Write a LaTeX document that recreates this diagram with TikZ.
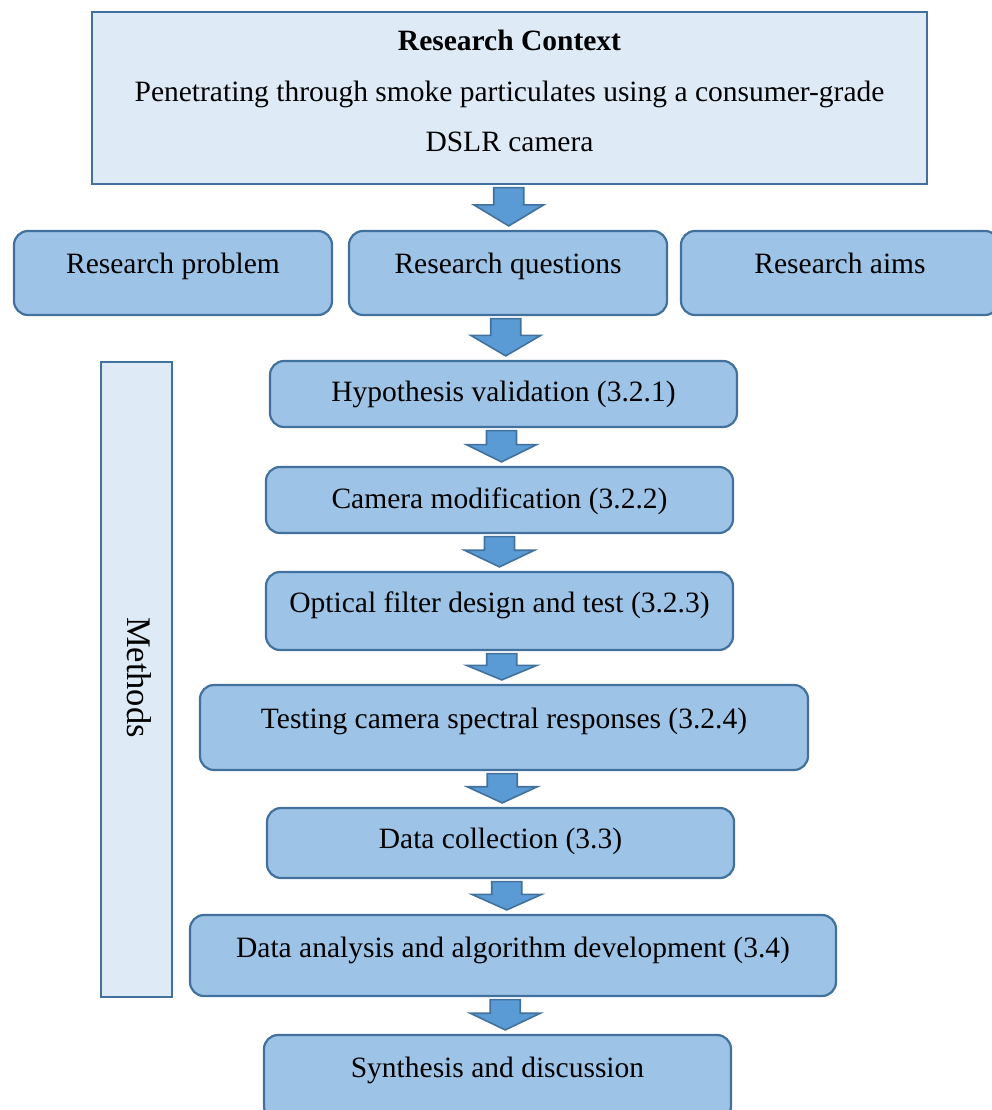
\documentclass[tikz,border=0pt]{standalone}
\usepackage{fontspec}
\setmainfont{Liberation Serif}
\usetikzlibrary{calc}
\definecolor{edge}{HTML}{41719C}
\definecolor{lightfill}{HTML}{DEEBF7}
\definecolor{boxfill}{HTML}{9DC3E6}
\definecolor{arrowfill}{HTML}{5B9BD5}
\tikzset{
  ctxbox/.style={draw=edge, line width=2.2pt, fill=lightfill, rectangle, inner sep=0pt},
  rbox/.style={draw=edge, line width=2.2pt, fill=boxfill, rectangle, rounded corners=14pt, inner sep=0pt},
  txt/.style={font=\fontsize{29.5}{34}\selectfont, inner sep=0pt, anchor=base},
  barrow/.style={draw=edge, line width=1.6pt, fill=arrowfill, line join=miter}
}
\newcommand\flowarrow[2]{%
  \draw[barrow] let \p1=(#1.south), \p2=(#2.north), \n1={(\x1+\x2)/2}, \n2={\y1-2.5}, \n3={\y2+4}, \n4={\n2-0.45*(\n2-\n3)} in
   (\n1*1pt-15pt,\n2*1pt) -- (\n1*1pt+15pt,\n2*1pt) -- (\n1*1pt+15pt,\n4*1pt) -- (\n1*1pt+35pt,\n4*1pt) -- (\n1*1pt,\n3*1pt)
   -- (\n1*1pt-35pt,\n4*1pt) -- (\n1*1pt-15pt,\n4*1pt) -- cycle;}
\begin{document}
\begin{tikzpicture}[x=1pt,y=-1pt]
\useasboundingbox (0,0) rectangle (991,1110);
% context
\node[ctxbox, minimum width=835pt, minimum height=172pt] (ctx) at (509.5,98) {};
\node[txt, font=\fontsize{29.5}{34}\selectfont\bfseries] (ctx1) at (509.5,51) {Research Context};
\node[txt] (ctx2) at (509.5,102) {Penetrating through smoke particulates using a consumer-grade};
\node[txt] (ctx3) at (509.5,152) {DSLR camera};
% row
\node[rbox, minimum width=318pt, minimum height=84pt] (rp) at (173,273) {};
\node[rbox, minimum width=318pt, minimum height=84pt] (rq) at (508,273) {};
\node[rbox, minimum width=318pt, minimum height=84pt] (ra) at (840,273) {};
\node[txt] (rpt) at ($(rp.north)+(0,44)$) {Research problem};
\node[txt] (rqt) at ($(rq.north)+(0,44)$) {Research questions};
\node[txt] (rat) at ($(ra.north)+(0,44)$) {Research aims};
% methods
\node[ctxbox, minimum width=71pt, minimum height=635pt] (meth) at (136.5,679.5) {};
\node[font=\fontsize{34.5}{40}\selectfont, inner sep=0pt, rotate=-90] (metht) at (139,677.5) {Methods};
% steps
\node[rbox, minimum width=467pt, minimum height=66pt] (hyp) at (503.5,394) {};
\node[rbox, minimum width=467pt, minimum height=66pt] (cam) at (499.5,500) {};
\node[rbox, minimum width=467pt, minimum height=78pt] (opt) at (499.5,611) {};
\node[rbox, minimum width=608pt, minimum height=85pt] (tst) at (504,727.5) {};
\node[rbox, minimum width=467pt, minimum height=70pt] (dc) at (500.5,843) {};
\node[rbox, minimum width=646pt, minimum height=81pt] (da) at (513,955.5) {};
\node[rbox, minimum width=467pt, minimum height=85pt] (syn) at (497.5,1077.5) {};
\node[txt] (hypt) at ($(hyp.north)+(0,42)$) {Hypothesis validation (3.2.1)};
\node[txt] (camt) at ($(cam.north)+(0,43)$) {Camera modification (3.2.2)};
\node[txt] (optt) at ($(opt.north)+(0,41.5)$) {Optical filter design and test (3.2.3)};
\node[txt] (tstt) at ($(tst.north)+(0,45)$) {Testing camera spectral responses (3.2.4)};
\node[txt] (dct) at ($(dc.north)+(0,42)$) {Data collection (3.3)};
\node[txt] (dat) at ($(da.north)+(0,44)$) {Data analysis and algorithm development (3.4)};
\node[txt] (synt) at ($(syn.north)+(0,44)$) {Synthesis and discussion};
% arrows
\flowarrow{ctx}{rq}
\flowarrow{rq}{hyp}
\flowarrow{hyp}{cam}
\flowarrow{cam}{opt}
\flowarrow{opt}{tst}
\flowarrow{tst}{dc}
\flowarrow{dc}{da}
\flowarrow{da}{syn}
\end{tikzpicture}
\end{document}
